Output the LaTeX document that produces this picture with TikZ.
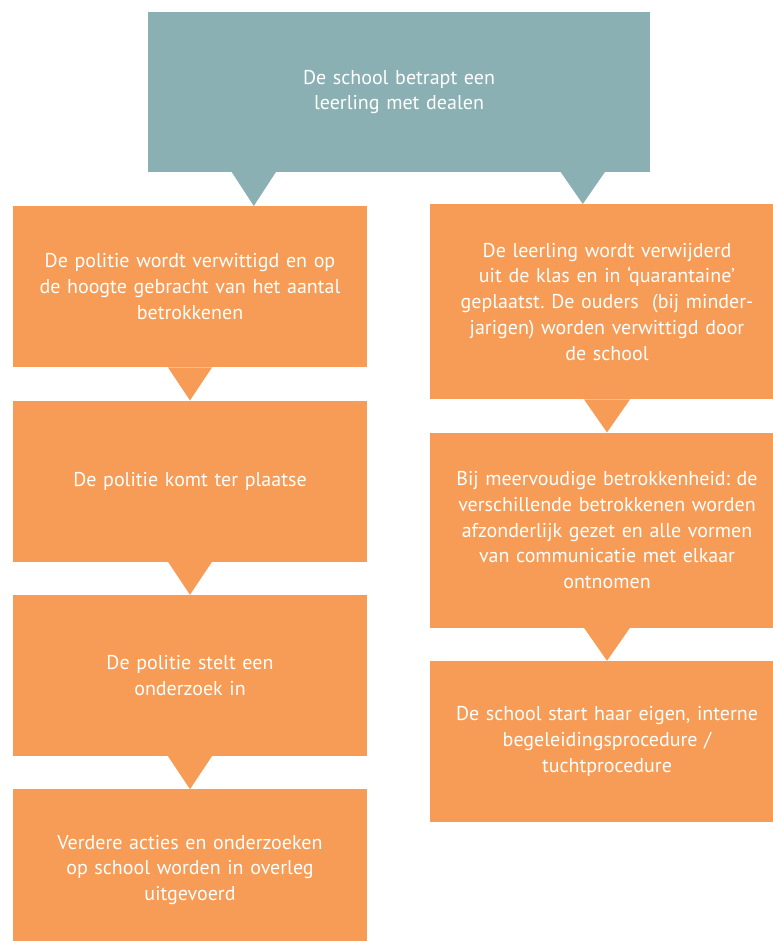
\documentclass[tikz,border=0pt]{standalone}
\usepackage{fontspec}
\setmainfont{PT Sans}
\usepackage{tikz}
\usetikzlibrary{positioning}
\usepackage{color}
\definecolor{dsTeal}{RGB}{138, 176, 180}
\definecolor{dsOrange}{RGB}{246, 156, 86}
\frenchspacing

\begin{document}
\begin{tikzpicture} [
    x=1pt, y=-1pt,
    node distance=33pt,
    block/.style = { rectangle, fill=dsOrange, text=white,
                     text width=350pt, align=center, inner sep=0pt,
                     minimum width=354pt, minimum height=161pt,
                     font=\fontsize{20}{25.7}\selectfont},
    start/.style = { block, fill=dsTeal, minimum width=502pt, minimum height=160pt},
    tall/.style  = { block, minimum height=195pt},
  ]
\useasboundingbox (0,0) rectangle (772,941);

%Startknoten
  \node [start] (top) at (399,92) {De school betrapt een\\leerling met dealen};

%linke Spalte
  \node [block, anchor=north] (L1) at (190,206)
        {De politie wordt verwittigd en op\\de hoogte gebracht van het aantal\\betrokkenen};
  \node [block, below=of L1] (L2) {De politie komt ter plaatse};
  \node [block, below=of L2] (L3) {De politie stelt een\\onderzoek in};
  \node [block, below=of L3] (L4) {Verdere acties en onderzoeken\\op school worden in overleg\\uitgevoerd};

%rechte Spalte
  \node [tall, anchor=north] (R1) at (607,204)
        {De leerling wordt verwijderd\\uit de klas en in ‘quarantaine’\\geplaatst. De ouders \ (bij minder-\\jarigen) worden verwittigd door\\de school};
  \node [tall, below=of R1] (R2) {Bij meervoudige betrokkenheid: de\\verschillende betrokkenen worden\\afzonderlijk gezet en alle vormen\\van communicatie met elkaar\\ontnomen};
  \node [block, below=of R2] (R3) {De school start haar eigen, interne\\begeleidingsprocedure /\\tuchtprocedure};

%Spitzen vom Startknoten
  \coordinate (tipL) at ([xshift=106pt]top.south west);
  \coordinate (tipR) at ([xshift=435pt]top.south west);
  \begin{scope} [every path/.style={fill=dsTeal}]
   \path ([xshift=-22pt]tipL) -- ([xshift=22pt]tipL) -- (tipL |- L1.north) -- cycle;
   \path ([xshift=-22pt]tipR) -- ([xshift=22pt]tipR) -- (tipR |- R1.north) -- cycle;
  \end{scope}

%Spitzen zwischen den Bloecken
  \begin{scope} [every path/.style={fill=dsOrange}]
   \path ([xshift=-22pt]L1.south) -- ([xshift=22pt]L1.south) -- (L2.north) -- cycle;
   \path ([xshift=-22pt]L2.south) -- ([xshift=22pt]L2.south) -- (L3.north) -- cycle;
   \path ([xshift=-22pt]L3.south) -- ([xshift=22pt]L3.south) -- (L4.north) -- cycle;
   \path ([xshift=-23pt]R1.south) -- ([xshift=23pt]R1.south) -- (R2.north) -- cycle;
   \path ([xshift=-23pt]R2.south) -- ([xshift=23pt]R2.south) -- (R3.north) -- cycle;
  \end{scope}
\end{tikzpicture}
\end{document}
